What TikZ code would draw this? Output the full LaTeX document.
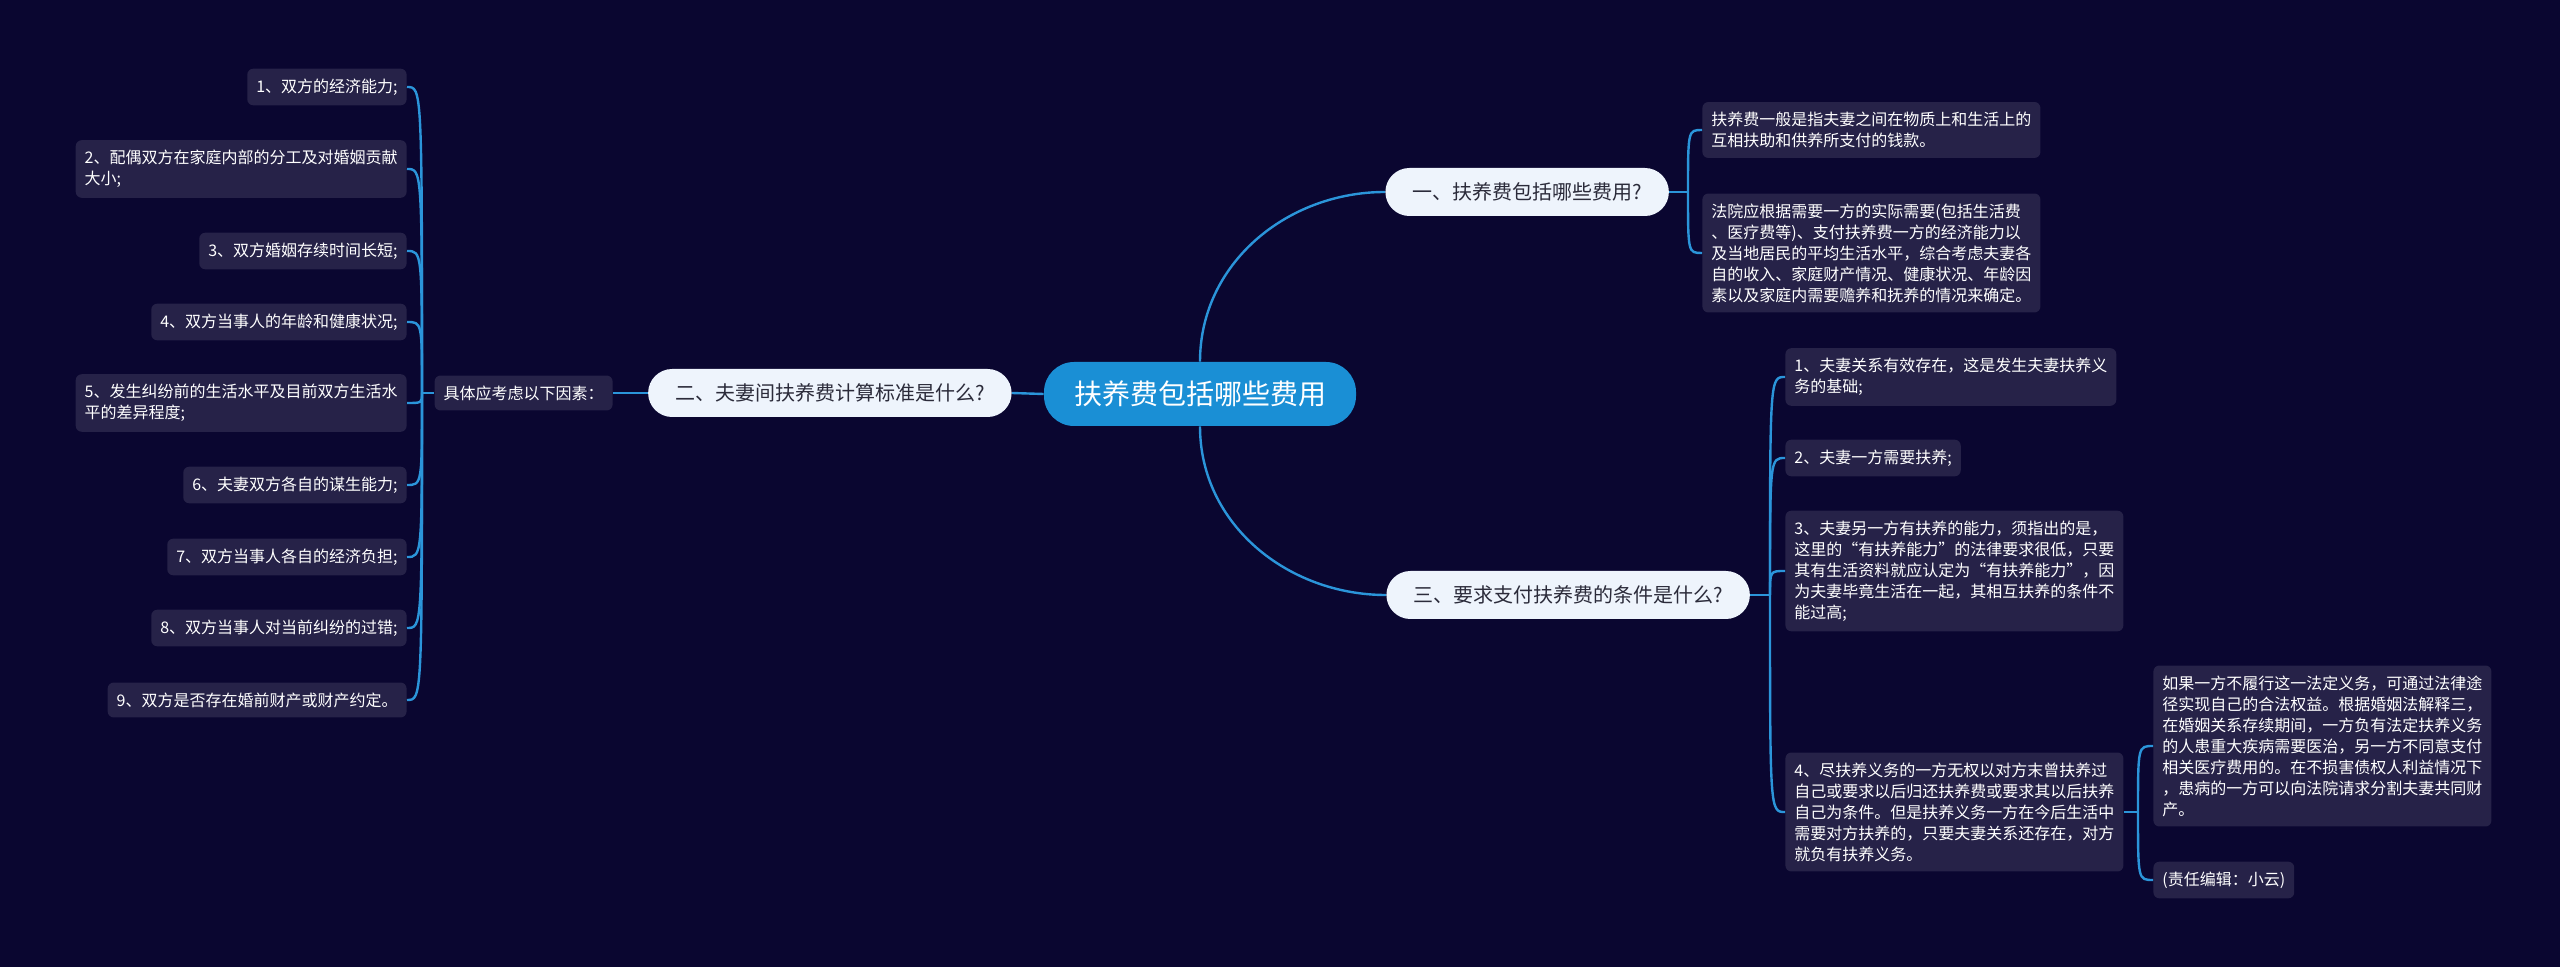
\documentclass[tikz,border=0pt]{standalone}
\usepackage{fontspec}
\setmainfont{Noto Sans CJK SC}
\definecolor{bgnavy}{HTML}{0A0630}
\definecolor{leafbg}{HTML}{262248}
\definecolor{rootblue}{HTML}{1A8FD5}
\definecolor{topicbg}{HTML}{EEF4FC}
\definecolor{topictext}{HTML}{2B2B3A}
\definecolor{linkblue}{HTML}{2B95DA}
\tikzset{
  rootnode/.style={fill=rootblue,text=white,rounded corners=15pt,minimum height=32pt,inner xsep=15pt,font=\fontsize{14pt}{16pt}\selectfont},
  topic/.style={fill=topicbg,text=topictext,rounded corners=12pt,minimum height=24pt,inner xsep=13.5pt,font=\fontsize{10pt}{12pt}\selectfont},
  leaf/.style={fill=leafbg,text=white,rounded corners=3pt,align=left,inner xsep=4.5pt,inner ysep=5pt,font=\fontsize{8pt}{10.5pt}\selectfont},
  link/.style={draw=linkblue,line width=1.2pt}
}
\begin{document}
\begin{tikzpicture}[x=0.5pt,y=-0.5pt]
\fill[bgnavy] (0,0) rectangle (2560,967);
\useasboundingbox (0,0) rectangle (2560,967);

\node[rootnode] (root) at (1200,394) {扶养费包括哪些费用};
\node[topic,anchor=west] (q1) at (1385,192) {一、扶养费包括哪些费用?};
\node[topic,anchor=east] (q2) at (1012,393) {二、夫妻间扶养费计算标准是什么?};
\node[topic,anchor=west] (q3) at (1386,595) {三、要求支付扶养费的条件是什么?};

\node[leaf,anchor=west] (q1a) at (1702,130) {扶养费一般是指夫妻之间在物质上和生活上的\\互相扶助和供养所支付的钱款。};
\node[leaf,anchor=west] (q1b) at (1702,253) {法院应根据需要一方的实际需要(包括生活费\\、医疗费等)、支付扶养费一方的经济能力以\\及当地居民的平均生活水平，综合考虑夫妻各\\自的收入、家庭财产情况、健康状况、年龄因\\素以及家庭内需要赡养和抚养的情况来确定。};

\node[leaf,anchor=east] (factor) at (613,393) {具体应考虑以下因素：};
\node[leaf,anchor=east] (f1) at (407,87) {1、双方的经济能力;};
\node[leaf,anchor=east] (f2) at (407,169) {2、配偶双方在家庭内部的分工及对婚姻贡献\\大小;};
\node[leaf,anchor=east] (f3) at (407,251) {3、双方婚姻存续时间长短;};
\node[leaf,anchor=east] (f4) at (407,322) {4、双方当事人的年龄和健康状况;};
\node[leaf,anchor=east] (f5) at (407,403) {5、发生纠纷前的生活水平及目前双方生活水\\平的差异程度;};
\node[leaf,anchor=east] (f6) at (407,485) {6、夫妻双方各自的谋生能力;};
\node[leaf,anchor=east] (f7) at (407,557) {7、双方当事人各自的经济负担;};
\node[leaf,anchor=east] (f8) at (407,628) {8、双方当事人对当前纠纷的过错;};
\node[leaf,anchor=east] (f9) at (407,700) {9、双方是否存在婚前财产或财产约定。};

\node[leaf,anchor=west] (c1) at (1785,377) {1、夫妻关系有效存在，这是发生夫妻扶养义\\务的基础;};
\node[leaf,anchor=west] (c2) at (1785,458) {2、夫妻一方需要扶养;};
\node[leaf,anchor=west] (c3) at (1785,571) {3、夫妻另一方有扶养的能力，须指出的是，\\这里的“有扶养能力”的法律要求很低，只要\\其有生活资料就应认定为“有扶养能力”，因\\为夫妻毕竟生活在一起，其相互扶养的条件不\\能过高;};
\node[leaf,anchor=west] (c4) at (1785,812) {4、尽扶养义务的一方无权以对方末曾扶养过\\自己或要求以后归还扶养费或要求其以后扶养\\自己为条件。但是扶养义务一方在今后生活中\\需要对方扶养的，只要夫妻关系还存在，对方\\就负有扶养义务。};
\node[leaf,anchor=west] (c4a) at (2153,746) {如果一方不履行这一法定义务，可通过法律途\\径实现自己的合法权益。根据婚姻法解释三，\\在婚姻关系存续期间，一方负有法定扶养义务\\的人患重大疾病需要医治，另一方不同意支付\\相关医疗费用的。在不损害债权人利益情况下\\，患病的一方可以向法院请求分割夫妻共同财\\产。};
\node[leaf,anchor=west] (c4b) at (2153,880) {(责任编辑：小云)};

\coordinate (hubf) at (422,393);
\coordinate (hub1) at (1688,192);
\coordinate (hub3) at (1770,595);
\coordinate (hub4) at (2138,812);

\draw[link] (root.north) to[out=90,in=180] (q1.west);
\draw[link] (root.south) to[out=-90,in=180] (q3.west);
\draw[link] (root.west) -- (q2.east);
\draw[link] (q2.west) -- (factor.east);

\draw[link] (factor.west) -- (hubf);
\draw[link] (hubf) .. controls (422,87) .. (f1.east);
\draw[link] (hubf) .. controls (422,169) .. (f2.east);
\draw[link] (hubf) .. controls (422,251) .. (f3.east);
\draw[link] (hubf) .. controls (422,322) .. (f4.east);
\draw[link] (hubf) .. controls (422,403) .. (f5.east);
\draw[link] (hubf) .. controls (422,485) .. (f6.east);
\draw[link] (hubf) .. controls (422,557) .. (f7.east);
\draw[link] (hubf) .. controls (422,628) .. (f8.east);
\draw[link] (hubf) .. controls (422,700) .. (f9.east);

\draw[link] (q1.east) -- (hub1);
\draw[link] (hub1) .. controls (1688,130) .. (q1a.west);
\draw[link] (hub1) .. controls (1688,253) .. (q1b.west);

\draw[link] (q3.east) -- (hub3);
\draw[link] (hub3) .. controls (1770,377) .. (c1.west);
\draw[link] (hub3) .. controls (1770,458) .. (c2.west);
\draw[link] (hub3) .. controls (1770,571) .. (c3.west);
\draw[link] (hub3) .. controls (1770,812) .. (c4.west);

\draw[link] (c4.east) -- (hub4);
\draw[link] (hub4) .. controls (2138,746) .. (c4a.west);
\draw[link] (hub4) .. controls (2138,880) .. (c4b.west);
\end{tikzpicture}
\end{document}
